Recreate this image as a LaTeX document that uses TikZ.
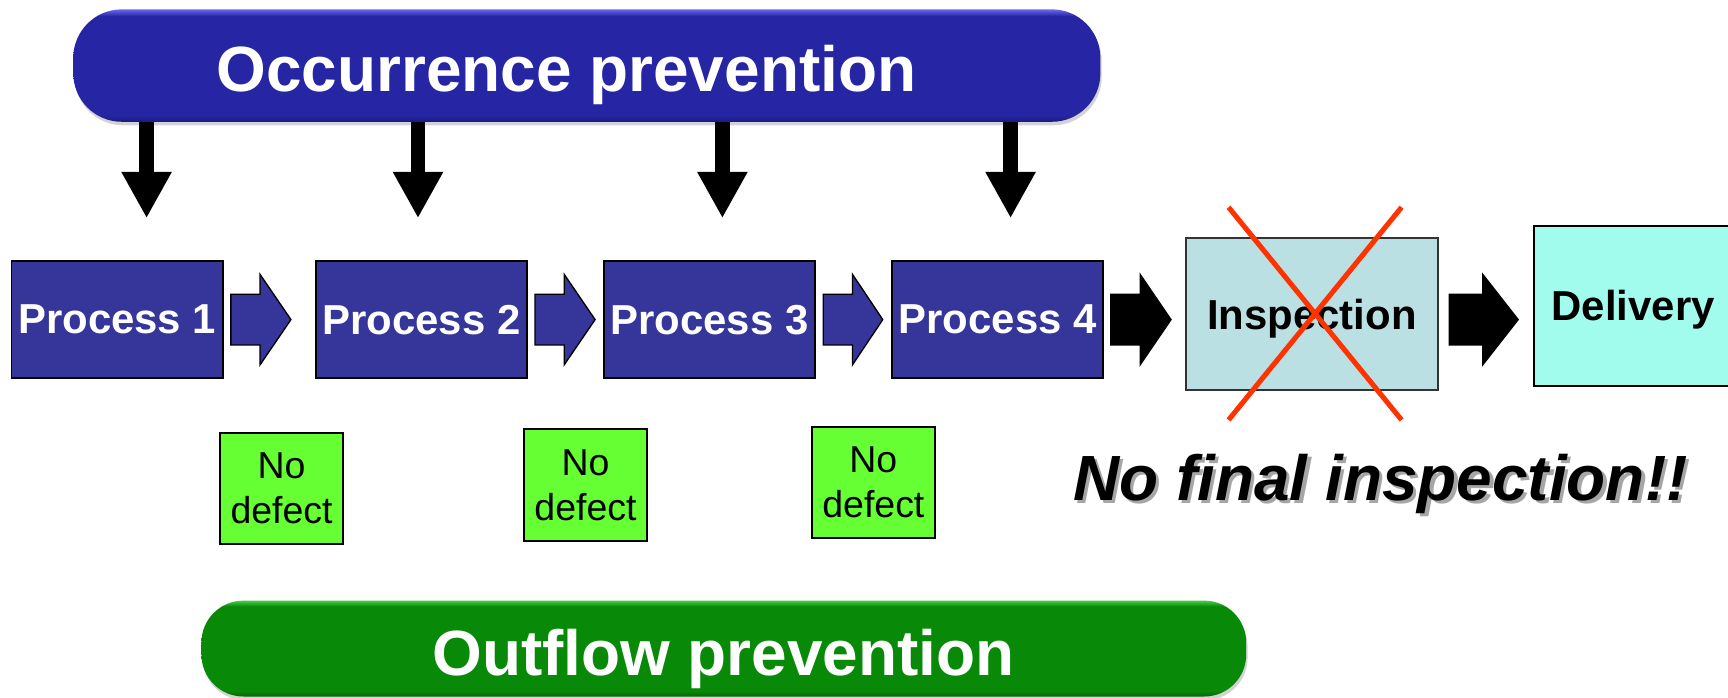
\documentclass[tikz,border=0pt]{standalone}
\usepackage{fontspec}
\setmainfont{Liberation Sans}
\usetikzlibrary{arrows.meta,shadows,calc}

\definecolor{procblue}{RGB}{53,53,154}
\definecolor{occbase}{RGB}{38,38,164}
\definecolor{occlight}{RGB}{104,104,236}
\definecolor{occdark}{RGB}{26,26,128}
\definecolor{outbase}{RGB}{8,138,8}
\definecolor{outlight}{RGB}{72,204,72}
\definecolor{outdark}{RGB}{5,100,5}
\definecolor{okgreen}{RGB}{102,255,51}
\definecolor{inspfill}{RGB}{186,224,227}
\definecolor{delfill}{RGB}{162,252,238}
\definecolor{crossred}{RGB}{255,51,0}

% glossy bars: light rim on top, darker rim at the bottom
\pgfdeclareverticalshading{occshade}{100bp}{color(0bp)=(occdark); color(25bp)=(occdark); color(28bp)=(occbase); color(72bp)=(occbase); color(75bp)=(occlight); color(100bp)=(occlight)}
\pgfdeclareverticalshading{outshade}{100bp}{color(0bp)=(outdark); color(25bp)=(outdark); color(28bp)=(outbase); color(72bp)=(outbase); color(75bp)=(outlight); color(100bp)=(outlight)}

\tikzset{
  bar/.style={draw=none, inner sep=0pt, drop shadow={opacity=0.35, shadow xshift=0.6pt, shadow yshift=-1.6pt}},
  bartext/.style={text=white, inner sep=0pt, font=\fontsize{29}{34}\selectfont\bfseries},
  procbox/.style={draw=black, line width=0.8pt, fill=procblue, text=white, inner sep=0pt,
    minimum width=95.8pt, minimum height=53.4pt, text depth=0pt, font=\fontsize{19}{23}\selectfont\bfseries},
  okbox/.style={draw=black, line width=0.8pt, fill=okgreen, inner sep=0pt, align=center,
    minimum width=56pt, minimum height=50.5pt, font=\fontsize{17}{20.4}\selectfont},
  inspbox/.style={draw=black!80, line width=0.8pt, fill=inspfill, inner sep=0pt,
    minimum width=114.5pt, minimum height=69.2pt, text depth=0pt, font=\fontsize{19}{23}\selectfont\bfseries},
  delbox/.style={draw=black, line width=0.9pt, fill=delfill, inner sep=0pt,
    minimum width=90pt, minimum height=72.6pt, text depth=0pt, font=\fontsize{19}{23}\selectfont\bfseries},
  downarrow/.style={line width=6.65pt, -{Triangle[width=21.3pt,length=21pt]}},
  bluearrow/.style={draw=black, line width=0.6pt, fill=procblue, line join=miter},
  blackarrow/.style={draw=black, line width=0.6pt, fill=black, line join=miter},
  cross/.style={draw=crossred, line width=2.3pt},
  slogan/.style={inner sep=0pt, font=\fontsize{29}{34}\selectfont\bfseries\itshape},
}

% block arrow: tail x, head base x, tip x
\newcommand\blockarr[4]{%
  \draw[#1] (#2,267) -- (#3,267) -- (#3,249) -- (#4,290) -- (#3,331) -- (#3,313) -- (#2,313) -- cycle;}

\begin{document}
\begin{tikzpicture}[x=0.5pt, y=-0.5pt]
\useasboundingbox (0,0) rectangle (1568,633);
\clip (0,0) rectangle (1568,633);

% arrows from the top bar down to the process line
\foreach \x [count=\i] in {133,379.3,655.5,917}
  \coordinate (tip\i) at (\x,198);

% occurrence prevention bar
\node[bar, shading=occshade, rounded corners=22pt, minimum width=466pt, minimum height=51pt]
  (occ) at (532.5,59.5) {};
\node[bartext, anchor=base] (occtxt) at (514,83) {Occurrence prevention};

\foreach \i in {1,...,4}
  \draw[downarrow] (occ.south -| tip\i) -- (tip\i);

% process chain
\node[procbox] (p1) at (106.3,289.9) {Process 1};
\node[procbox] (p2) at (382.4,289.9) {Process 2};
\node[procbox] (p3) at (643.8,289.9) {Process 3};
\node[procbox] (p4) at (905.3,289.9) {Process 4};

\blockarr{bluearrow}{209.5}{236}{264}
\blockarr{bluearrow}{485.5}{512}{540}
\blockarr{bluearrow}{747}{773.6}{801}
\blockarr{blackarrow}{1008}{1034.6}{1062.6}
\blockarr{blackarrow}{1315}{1345.5}{1377.6}

\node[inspbox] (insp) at (1190.5,284.85) {Inspection};
\node[delbox] (del) at (1482,277.4) {Delivery};

% crossed-out inspection
\draw[cross] ($(insp.center)+(-75.7,-96.8)$) -- ($(insp.center)+(81.3,96.2)$);
\draw[cross] ($(insp.center)+(81.3,-96.8)$) -- ($(insp.center)+(-75.7,96.2)$);

% defect-free checkpoints
\node[okbox] (g1) at (255.5,443.1) {No\\defect};
\node[okbox] (g2) at (531.3,440.1) {No\\defect};
\node[okbox] (g3) at (792.5,437.8) {No\\defect};

% slogan with a soft shadow
\node[slogan, anchor=base west, text=black!35] (sloganshadow) at (976.5,456.5) {No final inspection!!};
\node[slogan, anchor=base west] (sloganmain) at (973.5,453.7) {No final inspection!!};

% outflow prevention bar
\node[bar, shading=outshade, rounded corners=19pt, minimum width=474pt, minimum height=43.5pt]
  (out) at (656.8,588.5) {};
\node[bartext, anchor=base] (outtxt) at (656.5,612.5) {Outflow prevention};
\end{tikzpicture}
\end{document}
